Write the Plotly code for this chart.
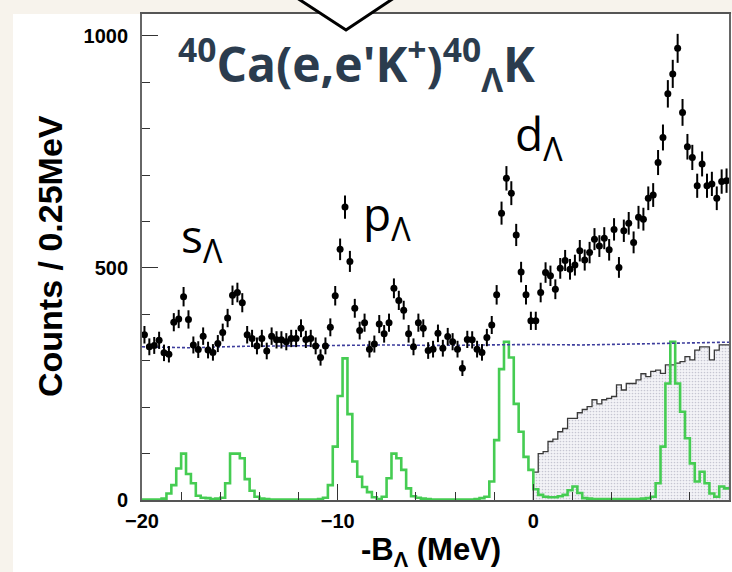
import numpy as np
import plotly.graph_objects as go

# ---------------- data ----------------
bin_width = 0.25
x_lo = -20.0
n_bins = 120
bin_edges = [x_lo + bin_width * k for k in range(n_bins + 1)]
bin_centers = [x_lo + bin_width * (k + 0.5) for k in range(n_bins)]

counts = [356, 330, 333, 344, 317, 314, 383, 390, 438, 389,
          334, 324, 353, 323, 318, 337, 361, 392, 441, 447,
          425, 356, 348, 332, 348, 321, 353, 345, 345, 341,
          348, 348, 370, 346, 348, 332, 307, 332, 372, 440,
          540, 631, 514, 413, 365, 382, 325, 336, 379, 358,
          382, 456, 430, 409, 358, 330, 382, 370, 322, 325,
          359, 327, 352, 341, 325, 284, 346, 345, 325, 318,
          350, 377, 442, 618, 693, 661, 571, 491, 442, 386,
          386, 447, 490, 483, 454, 499, 516, 497, 506, 537,
          517, 533, 562, 547, 564, 539, 583, 501, 580, 596,
          555, 609, 605, 650, 657, 727, 781, 875, 918, 973,
          835, 761, 738, 677, 724, 677, 681, 650, 686, 688]

theory = [1, 1, 1, 1, 3, 14, 32, 68, 100, 56,
          36, 9, 5, 4, 2, 3, 5, 36, 100, 100,
          90, 45, 20, 7, 3, 2, 1, 1, 1, 1,
          1, 1, 1, 1, 1, 1, 2, 5, 32, 115,
          224, 305, 185, 83, 50, 28, 17, 6, 2, 7,
          47, 100, 90, 65, 25, 8, 5, 3, 2, 1,
          1, 1, 1, 1, 1, 1, 1, 1, 2, 4,
          7, 40, 129, 282, 341, 307, 207, 147, 93, 65,
          23, 11, 7, 6, 6, 8, 11, 21, 29, 15,
          4, 3, 2, 2, 2, 2, 2, 2, 2, 2,
          2, 2, 3, 4, 7, 36, 115, 251, 341, 251,
          190, 133, 79, 40, 61, 36, 14, 7, 29, 25]

qf_start_bin = 80
quasi_free = [60, 100, 104, 126, 131, 147, 154, 176, 176, 188,
              195, 201, 216, 207, 216, 219, 223, 248, 237, 251,
              251, 259, 272, 266, 277, 280, 273, 291, 291, 295,
              298, 309, 302, 323, 330, 330, 302, 323, 334, 334]

bg_x = [-20, -17.5, -15, -12.5, -10, -7.5, -5, -2.5, 0, 2.5, 5, 7.5, 10]
bg_y = [330, 328, 331, 332, 333, 334, 333, 334, 335, 334, 336, 337, 340]

y_tick_vals = [0, 500, 1000]
x_tick_vals = [-20, -10, 0, 10]

# --------------- geometry helpers ---------------
W, H = 732, 572
ML, MR, MT, MB = 142, 3, 14, 72
PW, PH = W - ML - MR, H - MT - MB


def px(xp):
    return (xp - ML) / PW


def py(yp):
    return (H - MB - yp) / PH


def steps(edges, vals):
    xs = list(edges[:len(vals)]) + [edges[len(vals)]]
    ys = list(vals) + [vals[-1]]
    return xs, ys


fig = go.Figure()

# quasi-free (grey dotted) histogram
qx, qy = steps(bin_edges[qf_start_bin:], quasi_free)
qx = [qx[0]] + qx
qy = [0] + qy
fig.add_trace(go.Scatter(
    x=qx, y=qy, mode="lines", line=dict(shape="hv", color="#3a3a3a", width=1.3),
    fill="tozeroy", fillcolor="#eeeef3",
    fillpattern=dict(shape=".", size=3, solidity=0.25, fgcolor="#9a9aae", bgcolor="#f3f3f7"),
    hoverinfo="skip", showlegend=False))

# theoretical (green) histogram
tx, ty = steps(bin_edges, theory)
fig.add_trace(go.Scatter(
    x=tx, y=ty, mode="lines", line=dict(shape="hv", color="#45cc52", width=2.6),
    hoverinfo="skip", showlegend=False))

# background (blue dashed)
fig.add_trace(go.Scatter(
    x=bg_x, y=bg_y, mode="lines", line=dict(color="#3d3d9c", width=1.6, dash="3px,2px"),
    hoverinfo="skip", showlegend=False))

# data with error bars
err = np.sqrt(np.array(counts, dtype=float))
fig.add_trace(go.Scatter(
    x=bin_centers, y=counts, mode="markers",
    marker=dict(color="black", size=7),
    error_y=dict(type="data", array=err, visible=True, thickness=2, width=0, color="black"),
    showlegend=False))

tick_font = dict(family="Liberation Sans, Arial", size=20, color="black", weight="bold")

fig.update_xaxes(
    range=[-20, 10], tickvals=x_tick_vals, ticks="inside", ticklen=16, tickwidth=1.3,
    tickcolor="#333", showline=True, linecolor="#555", linewidth=1.5, mirror=True,
    showgrid=False, zeroline=False, tickfont=tick_font, ticklabelstandoff=2,
    minor=dict(dtick=2, ticks="inside", ticklen=8, tickcolor="#333", tickwidth=1.2, showgrid=False))
fig.update_yaxes(
    range=[0, 1047], tickvals=y_tick_vals, ticks="inside", ticklen=16, tickwidth=1.3,
    tickcolor="#333", showline=True, linecolor="#666", linewidth=1.8, mirror=True,
    showgrid=False, zeroline=False, tickfont=tick_font, ticklabelstandoff=8,
    minor=dict(dtick=100, ticks="inside", ticklen=8, tickcolor="#333", tickwidth=1.2, showgrid=False))

shapes = [
    # white panel on cream page
    dict(type="rect", xref="paper", yref="paper", x0=px(13), x1=px(740), y0=py(580), y1=py(14),
         fillcolor="white", line=dict(width=0), layer="below"),
    # speech-bubble pointer
    dict(type="path", xref="paper", yref="paper",
         path=f"M {px(297)} {py(-2)} L {px(346)} {py(30)} L {px(394)} {py(-2)} Z",
         fillcolor="white", line=dict(color="black", width=3), layer="above"),
]

annos = [
    dict(text="<sup>40</sup>Ca(e,e'K<sup>+</sup>)<sup>40</sup><sub>Λ</sub>K",
         x=px(176), y=py(64), xanchor="left", yanchor="middle",
         font=dict(family="Open Sans", size=48, color="#2b3c4e", weight="bold")),
    dict(text="s<sub>Λ</sub>", x=px(179), y=py(238), xanchor="left", yanchor="middle",
         font=dict(family="Open Sans", size=46, color="black")),
    dict(text="p<sub>Λ</sub>", x=px(361), y=py(216), xanchor="left", yanchor="middle",
         font=dict(family="Open Sans", size=46, color="black")),
    dict(text="d<sub>Λ</sub>", x=px(513), y=py(136), xanchor="left", yanchor="middle",
         font=dict(family="Open Sans", size=46, color="black")),
    dict(text="-B<sub>Λ</sub> (MeV)", x=px(431), y=py(552), xanchor="center", yanchor="middle",
         font=dict(family="Liberation Sans, Arial", size=31, color="black", weight="bold")),
    dict(text="Counts / 0.25MeV", x=px(50), y=py(256), xanchor="center", yanchor="middle",
         textangle=-90,
         font=dict(family="Liberation Sans, Arial", size=34, color="black", weight="bold")),
]
for a in annos:
    a.update(xref="paper", yref="paper", showarrow=False)

fig.update_layout(
    width=W, height=H, margin=dict(l=ML, r=MR, t=MT, b=MB, autoexpand=False),
    paper_bgcolor="#f7f3ec", plot_bgcolor="white",
    shapes=shapes, annotations=annos)

fig.write_html(
    "out.html",
    config={"displayModeBar": False},
    post_script="document.body.style.margin='0px';document.body.style.background='#f7f3ec';")
